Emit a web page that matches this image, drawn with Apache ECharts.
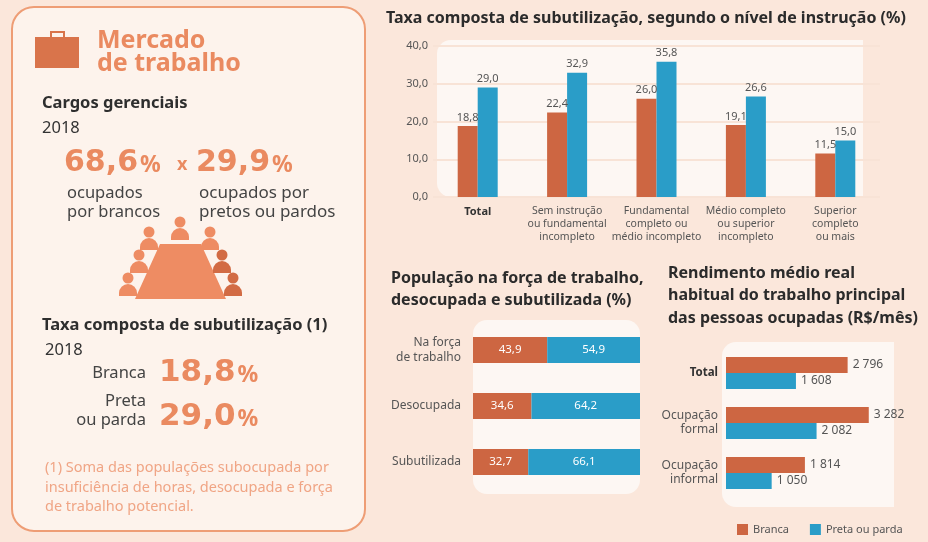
<!DOCTYPE html>
<html>
<head>
<meta charset="utf-8">
<script src="https://cdn.jsdelivr.net/npm/echarts@6/dist/echarts.min.js"></script>
<style>
  html, body { margin: 0; padding: 0; background: #FBE7DB; }
  #chart { width: 928px; height: 542px; }
</style>
</head>
<body>
<div id="chart"></div>
<script>
// dados
var seriesNames = ['Branca', 'Preta ou parda'];

var instrucaoCats = ['Total', 'Sem instrução\nou fundamental\nincompleto', 'Fundamental\ncompleto ou\nmédio incompleto', 'Médio completo\nou superior\nincompleto', 'Superior\ncompleto\nou mais'];
var instrucaoBranca = [18.8, 22.4, 26.0, 19.1, 11.5];
var instrucaoPreta = [29.0, 32.9, 35.8, 26.6, 15.0];
var instrucaoTicks = [0, 10, 20, 30, 40];

var forcaCats = ['Na força\nde trabalho', 'Desocupada', 'Subutilizada'];
var forcaBranca = [43.9, 34.6, 32.7];
var forcaPreta = [54.9, 64.2, 66.1];

var rendCats = ['Total', 'Ocupação\nformal', 'Ocupação\ninformal'];
var rendBranca = [2796, 3282, 1814];
var rendPreta = [1608, 2082, 1050];

var cargos = [68.6, 29.9];
var taxaTotal = [18.8, 29.0];

var ORANGE = '#CD6642';
var BLUE = '#2A9DC8';
var SALMON = '#EA8A60';
var FONT = '"Noto Sans", sans-serif';
var BIG = '"DejaVu Sans", sans-serif';

function virgula(v, d) {
    return v.toFixed(d).replace('.', ',');
}
function milhar(v) {
    return String(v).replace(/\B(?=(\d{3})+(?!\d))/g, ' ');
}

var myChart = echarts.init(document.getElementById('chart'));

// pessoa (cabeça + corpo) para a ilustração
function pessoa(cx, cy, cor) {
    return [
        { type: 'circle', shape: { cx: cx, cy: cy, r: 5.5 }, style: { fill: cor } },
        { type: 'rect', shape: { x: cx - 9, y: cy + 6, width: 18, height: 12, r: [9, 9, 0, 0] }, style: { fill: cor } }
    ];
}
function texto(x, y, str, font, cor, extra) {
    var st = { text: str, font: font, fill: cor, verticalAlign: 'middle', align: 'left' };
    for (var k in extra) st[k] = extra[k];
    return { type: 'text', x: x, y: y, style: st };
}
function percent(x, y, v, size) {
    return {
        type: 'text', x: x, y: y,
        style: {
            text: '{n|' + virgula(v, 1) + '}{p|%}', verticalAlign: 'middle',
            rich: {
                n: { font: 'bold ' + size + 'px ' + BIG, fill: SALMON },
                p: { font: 'bold ' + Math.round(size * 0.75) + 'px ' + FONT, fill: SALMON, padding: [5, 0, 0, 2] }
            }
        }
    };
}

var CLARO = '#EE8C63';
var ESCURO = '#D26B44';
var graphics = [
    // painel esquerdo
    { type: 'rect', z: -10, shape: { x: 12, y: 7, width: 353, height: 524, r: 22 }, style: { fill: '#FDF3EC', stroke: '#EE9D75', lineWidth: 2 } },
    // fundos dos gráficos
    { type: 'rect', z: -10, shape: { x: 437, y: 40, width: 426, height: 157, r: [14, 0, 0, 14] }, style: { fill: '#FDF7F3' } },
    { type: 'rect', z: -10, shape: { x: 473, y: 320, width: 167, height: 174, r: 14 }, style: { fill: '#FDF7F3' } },
    { type: 'rect', z: -10, shape: { x: 722, y: 342, width: 172, height: 165, r: [14, 0, 0, 14] }, style: { fill: '#FDF7F3' } },
    // pasta
    { type: 'rect', shape: { x: 35, y: 37, width: 44, height: 31 }, style: { fill: '#D9744B' } },
    { type: 'rect', shape: { x: 51, y: 32, width: 13, height: 8 }, style: { fill: 'none', stroke: '#D9744B', lineWidth: 2 } },
    texto(97, 41, 'Mercado', 'bold 25px ' + FONT, SALMON),
    texto(97, 64, 'de trabalho', 'bold 25px ' + FONT, SALMON),
    texto(42, 103, 'Cargos gerenciais', 'bold 16.5px ' + FONT, '#2E2E2E'),
    texto(42, 128, '2018', '16.5px ' + FONT, '#333'),
    percent(64, 163, cargos[0], 30),
    texto(177, 165, 'x', 'bold 18px ' + FONT, SALMON),
    percent(196, 163, cargos[1], 30),
    texto(67, 202.5, 'ocupados\npor brancos', '16.5px ' + FONT, '#444', { lineHeight: 19 }),
    texto(199, 202.5, 'ocupados por\npretos ou pardos', '17px ' + FONT, '#444', { lineHeight: 19 }),
    // mesa
    { type: 'polygon', shape: { points: [[160, 244], [201, 244], [226, 299], [135, 299]] }, style: { fill: CLARO } },
    texto(42, 325, 'Taxa composta de subutilização (1)', 'bold 16.5px ' + FONT, '#2E2E2E'),
    texto(45, 350, '2018', '16.5px ' + FONT, '#333'),
    texto(146, 373, 'Branca', '16.5px ' + FONT, '#444', { align: 'right' }),
    texto(146, 410.5, 'Preta\nou parda', '16.5px ' + FONT, '#444', { align: 'right', lineHeight: 19 }),
    percent(159, 373, taxaTotal[0], 31),
    percent(159, 417, taxaTotal[1], 31),
    texto(45, 487.5, '(1) Soma das populações subocupada por\ninsuficiência de horas, desocupada e força\nde trabalho potencial.', '14.5px ' + FONT, '#F0A585', { lineHeight: 19.5 })
];
[[180, 222, CLARO], [149, 232, CLARO], [139, 255, CLARO], [128, 278, CLARO],
 [210, 232, CLARO], [222, 255, ESCURO], [233, 278, ESCURO]].forEach(function (p) {
    graphics = graphics.concat(pessoa(p[0], p[1], p[2]));
});

var option = {
    backgroundColor: '#FBE7DB',
    textStyle: { fontFamily: FONT },
    title: [
        { text: 'Taxa composta de subutilização, segundo o nível de instrução (%)', left: 381, top: 5,
          textStyle: { fontSize: 16, fontWeight: 'bold', color: '#2B2B2B', fontFamily: FONT } },
        { text: 'População na força de trabalho,\ndesocupada e subutilizada (%)', left: 386, top: 262,
          textStyle: { fontSize: 16, fontWeight: 'bold', color: '#2B2B2B', fontFamily: FONT, lineHeight: 22 } },
        { text: 'Rendimento médio real\nhabitual do trabalho principal\ndas pessoas ocupadas (R$/mês)', left: 663, top: 257,
          textStyle: { fontSize: 16, fontWeight: 'bold', color: '#2B2B2B', fontFamily: FONT, lineHeight: 22.5 } }
    ],
    legend: {
        data: seriesNames, left: 732, top: 519, icon: 'rect', itemWidth: 11, itemHeight: 11, itemGap: 21,
        textStyle: { color: '#555', fontSize: 11, fontFamily: FONT }
    },
    graphic: graphics,
    grid: [
        { left: 433, right: 48, top: 46, bottom: 345 },
        { left: 473, right: 288, top: 322, bottom: 52 },
        { left: 726, right: 28, top: 348, bottom: 44 }
    ],
    xAxis: [
        {
            gridIndex: 0, type: 'category', data: instrucaoCats,
            axisLine: { show: false }, axisTick: { show: false },
            axisLabel: {
                interval: 0, margin: 8, lineHeight: 13, color: '#555', fontSize: 10.5,
                formatter: function (v, i) { return i === 0 ? '{b|' + v + '}' : v; },
                rich: { b: { fontWeight: 'bold', color: '#333', fontSize: 11 } }
            }
        },
        { gridIndex: 1, type: 'value', min: 0, max: 98.8, show: false },
        { gridIndex: 2, type: 'value', min: 0, max: 4000, show: false }
    ],
    yAxis: [
        {
            gridIndex: 0, type: 'value', min: instrucaoTicks[0], max: instrucaoTicks[instrucaoTicks.length - 1], interval: 10,
            axisLine: { show: false }, axisTick: { show: false },
            axisLabel: { color: '#555', fontSize: 11, margin: 5, formatter: function (v) { return virgula(v, 1); } },
            splitLine: { lineStyle: { color: '#F8E3D6', width: 2 } }
        },
        {
            gridIndex: 1, type: 'category', data: forcaCats, inverse: true,
            axisLine: { show: false }, axisTick: { show: false },
            axisLabel: { color: '#555', fontSize: 12, margin: 12, lineHeight: 15 }
        },
        {
            gridIndex: 2, type: 'category', data: rendCats, inverse: true,
            axisLine: { show: false }, axisTick: { show: false },
            axisLabel: {
                color: '#555', fontSize: 12, margin: 8, lineHeight: 14,
                formatter: function (v, i) { return i === 0 ? '{b|' + v + '}' : v; },
                rich: { b: { fontWeight: 'bold', color: '#333', fontSize: 11.5 } }
            }
        }
    ],
    series: [
        {
            name: seriesNames[0], type: 'bar', xAxisIndex: 0, yAxisIndex: 0, data: instrucaoBranca,
            barWidth: 20, barGap: '0%', color: ORANGE,
            label: { show: true, position: 'top', distance: 3, color: '#555', fontSize: 11, formatter: function (p) { return virgula(p.value, 1); } }
        },
        {
            name: seriesNames[1], type: 'bar', xAxisIndex: 0, yAxisIndex: 0, data: instrucaoPreta,
            barWidth: 20, barGap: '0%', color: BLUE,
            label: { show: true, position: 'top', distance: 3, color: '#555', fontSize: 11, formatter: function (p) { return virgula(p.value, 1); } }
        },
        {
            name: seriesNames[0], type: 'bar', xAxisIndex: 1, yAxisIndex: 1, data: forcaBranca, stack: 'forca',
            barWidth: 26, color: ORANGE,
            label: { show: true, position: 'inside', color: '#fff', fontSize: 11.5, formatter: function (p) { return virgula(p.value, 1); } }
        },
        {
            name: seriesNames[1], type: 'bar', xAxisIndex: 1, yAxisIndex: 1, data: forcaPreta, stack: 'forca',
            barWidth: 26, color: BLUE,
            label: { show: true, position: 'inside', color: '#fff', fontSize: 11.5, formatter: function (p) { return virgula(p.value, 1); } }
        },
        {
            name: seriesNames[0], type: 'bar', xAxisIndex: 2, yAxisIndex: 2, data: rendBranca,
            barWidth: 16, barGap: '0%', color: ORANGE,
            label: { show: true, position: 'right', distance: 5, color: '#555', fontSize: 12, formatter: function (p) { return milhar(p.value); } }
        },
        {
            name: seriesNames[1], type: 'bar', xAxisIndex: 2, yAxisIndex: 2, data: rendPreta,
            barWidth: 16, barGap: '0%', color: BLUE,
            label: { show: true, position: 'right', distance: 5, color: '#555', fontSize: 12, formatter: function (p) { return milhar(p.value); } }
        }
    ]
};
myChart.setOption(option);
</script>
</body>
</html>
